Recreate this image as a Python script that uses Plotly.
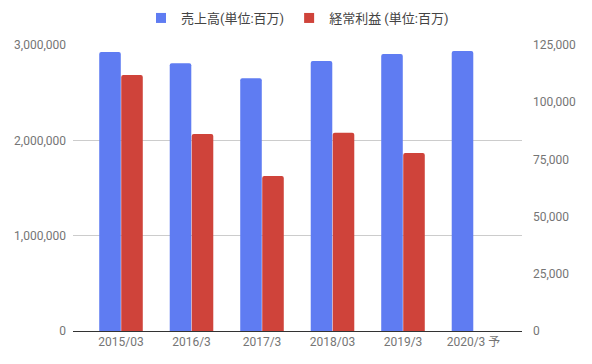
import plotly.graph_objects as go

categories = ["2015/03", "2016/3", "2017/3", "2018/03", "2019/3", "2020/3 予"]
sales = [2927000, 2808000, 2651000, 2832000, 2906000, 2937000]
profit = [111900, 86100, 67700, 86700, 77800, None]
sales_name = "売上高(単位:百万)"
profit_name = "経常利益 (単位:百万)"

left_ticks = [0, 1000000, 2000000, 3000000]
left_labels = ["0", "1,000,000", "2,000,000", "3,000,000"]
right_ticks = [0, 25000, 50000, 75000, 100000, 125000]
right_labels = ["0", "25,000", "50,000", "75,000", "100,000", "125,000"]

blue = "#5f7cf2"
red = "#cf433a"
tick_color = "#757575"

fig = go.Figure()
fig.add_trace(go.Bar(
    x=categories, y=sales, name=sales_name, showlegend=False,
    marker=dict(color=blue, line=dict(width=0), cornerradius=2),
    offsetgroup="1", yaxis="y",
))
fig.add_trace(go.Bar(
    x=categories, y=profit, name=profit_name, showlegend=False,
    marker=dict(color=red, line=dict(width=0), cornerradius=2),
    offsetgroup="2", yaxis="y2",
))
# legend entries with square markers
fig.add_trace(go.Scatter(x=[None], y=[None], mode="markers", name=sales_name,
                         marker=dict(symbol="square", size=10, color=blue)))
fig.add_trace(go.Scatter(x=[None], y=[None], mode="markers", name=profit_name,
                         marker=dict(symbol="square", size=10, color=red)))

fig.update_layout(
    width=592, height=364,
    margin=dict(l=73, r=70, t=45, b=33, autoexpand=False),
    paper_bgcolor="white", plot_bgcolor="white",
    font=dict(family="Roboto, Noto Sans CJK JP, sans-serif", size=12, color=tick_color),
    barmode="group", bargap=0.376, bargroupgap=0.02,
    showlegend=True,
    legend=dict(orientation="h", x=0.5, xanchor="center", y=1 - 18 / 364, yanchor="middle",
                yref="container",
                font=dict(size=13, color="#444444"),
                bgcolor="rgba(0,0,0,0)"),
    xaxis=dict(type="category", range=[-0.681, 5.688], showgrid=False,
               showline=True, linecolor="#333333", linewidth=1,
               ticks="", tickfont=dict(size=12, color=tick_color),
               zeroline=False),
    yaxis=dict(range=[0, 3000000], tickvals=left_ticks, ticktext=left_labels,
               showgrid=True, gridcolor="#cccccc", gridwidth=1,
               zeroline=False,
               showline=False, ticks="", ticklabelstandoff=6,
               tickfont=dict(size=12, color=tick_color)),
    yaxis2=dict(range=[0, 125000], tickvals=right_ticks, ticktext=right_labels,
                overlaying="y", side="right", showgrid=False, zeroline=False,
                showline=False, ticks="", ticklabelstandoff=10,
                tickfont=dict(size=12, color=tick_color)),
)

fig.write_html("out.html", config={"displayModeBar": False},
               post_script="document.body.style.margin='0';")
